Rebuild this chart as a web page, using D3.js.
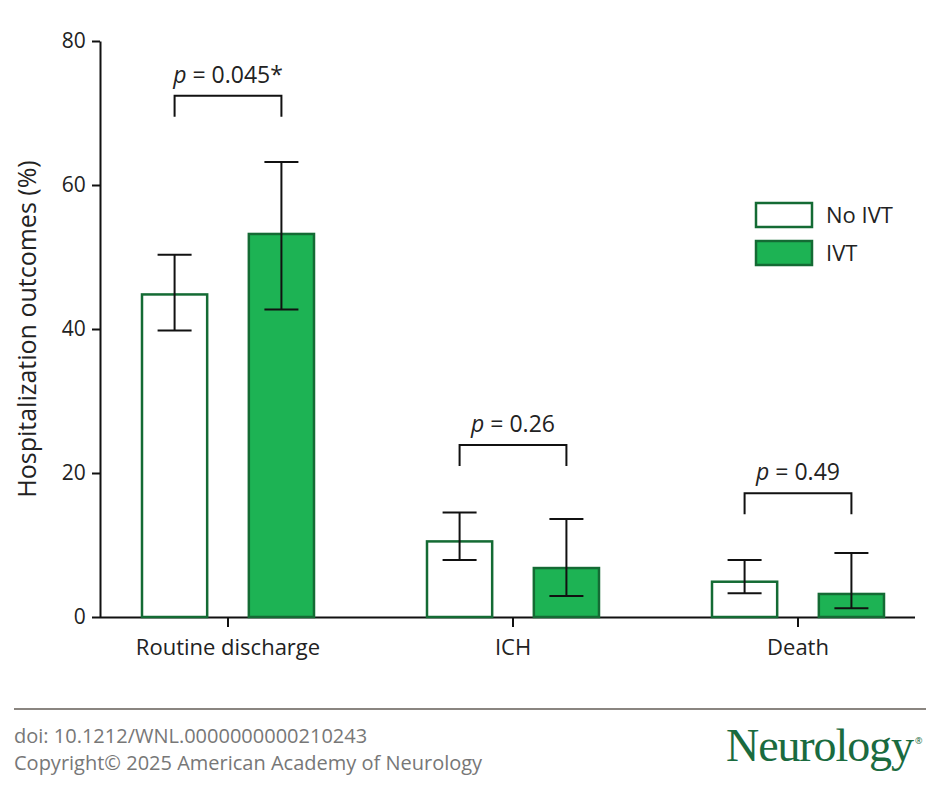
<!DOCTYPE html>
<html><head><meta charset="utf-8">
<script src="https://cdn.jsdelivr.net/npm/d3@7"></script>
<style>body{margin:0;background:#fff}</style></head>
<body><svg id="c" width="940" height="788"></svg>
<script>
const categories = ["Routine discharge","ICH","Death"];
const series = ["No IVT","IVT"];
const values = [[44.8,53.2],[10.5,6.8],[4.9,3.2]];
const lower = [[39.8,42.7],[7.9,2.9],[3.3,1.2]];
const upper = [[50.3,63.2],[14.5,13.6],[7.9,8.9]];
const pLabels = ["0.045*","0.26","0.49"];
const pLevels = [72.4,23.9,17.2];
const yTicks = [0,20,40,60,80];

const svg = d3.select("#c");
const green="#1db354", dark="#146b34", font="'Open Sans', sans-serif";
const y = d3.scaleLinear().domain([0,80]).range([617,41]);
const x0 = d3.scaleBand().domain(categories).range([85.5,940.5]);
const x1 = d3.scaleBand().domain(series).range([56.5,228.5]).paddingInner(0.39).paddingOuter(0);

const ya = svg.append("g").attr("transform","translate(100,0)").call(d3.axisLeft(y).tickValues(yTicks).tickSize(8).tickSizeOuter(0));
const xa = svg.append("g").attr("transform","translate(0,617)").call(d3.axisBottom(x0).tickSize(10).tickSizeOuter(0));
xa.select(".domain").attr("d","M100,0.5H915");
[ya,xa].forEach(a=>{a.selectAll("path,line").attr("stroke","#111").attr("stroke-width",2);
 a.selectAll("text").attr("font-family",font).attr("font-size",22).attr("fill","#222");});
ya.selectAll("text").attr("font-size",21).attr("dx","-0.15em");
xa.selectAll("text").attr("dy","1.15em");
svg.append("text").attr("transform","translate(36,329) rotate(-90)").attr("text-anchor","middle")
 .attr("font-family",font).attr("font-size",25).attr("fill","#222").text("Hospitalization outcomes (%)");

categories.forEach((c,i)=>{
 const g=svg.append("g").attr("transform",`translate(${x0(c)},0)`);
 series.forEach((s,j)=>{
  const bx=x1(s), w=x1.bandwidth(), cx=bx+w/2;
  g.append("rect").attr("x",bx).attr("y",y(values[i][j])).attr("width",w).attr("height",y(0)-y(values[i][j]))
   .attr("fill",j?green:"#fff").attr("stroke",dark).attr("stroke-width",2.5);
  g.append("line").attr("x1",cx).attr("x2",cx).attr("y1",y(lower[i][j])).attr("y2",y(upper[i][j])).attr("stroke","#111").attr("stroke-width",2);
  [lower[i][j],upper[i][j]].forEach(v=>g.append("line").attr("x1",cx-17).attr("x2",cx+17).attr("y1",y(v)).attr("y2",y(v)).attr("stroke","#111").attr("stroke-width",2));
 });
 const a=x1(series[0])+x1.bandwidth()/2, b=x1(series[1])+x1.bandwidth()/2, py=y(pLevels[i]);
 g.append("path").attr("d",`M${a},${py+21}V${py}H${b}V${py+21}`).attr("fill","none").attr("stroke","#111").attr("stroke-width",2);
 const t=g.append("text").attr("x",(a+b)/2).attr("y",py-13).attr("text-anchor","middle").attr("font-family",font).attr("font-size",23).attr("fill","#222");
 t.append("tspan").attr("font-style","italic").text("p");
 t.append("tspan").text(" = "+pLabels[i]);
});

series.forEach((s,j)=>{
 const ly=203+j*38;
 svg.append("rect").attr("x",756).attr("y",ly).attr("width",56).attr("height",24).attr("fill",j?green:"#fff").attr("stroke",dark).attr("stroke-width",2.5);
 svg.append("text").attr("x",826).attr("y",ly+20).attr("font-family",font).attr("font-size",22).attr("fill","#222").text(s);
});

svg.append("line").attr("x1",14).attr("x2",926).attr("y1",709).attr("y2",709).attr("stroke","#8a8580").attr("stroke-width",2);
svg.append("text").attr("x",14).attr("y",743).attr("font-family",font).attr("font-size",20).attr("fill","#777").text("doi: 10.1212/WNL.0000000000210243");
svg.append("text").attr("x",14).attr("y",770).attr("font-family",font).attr("font-size",20).attr("fill","#777").text("Copyright© 2025 American Academy of Neurology");
svg.append("text").attr("x",726).attr("y",761).attr("font-family","'Liberation Serif', serif").attr("font-size",46).attr("fill","#1a6b3f").attr("textLength",188).text("Neurology");
svg.append("text").attr("x",915).attr("y",744).attr("font-family",font).attr("font-size",9).attr("fill","#1a6b3f").text("®");
</script></body></html>
